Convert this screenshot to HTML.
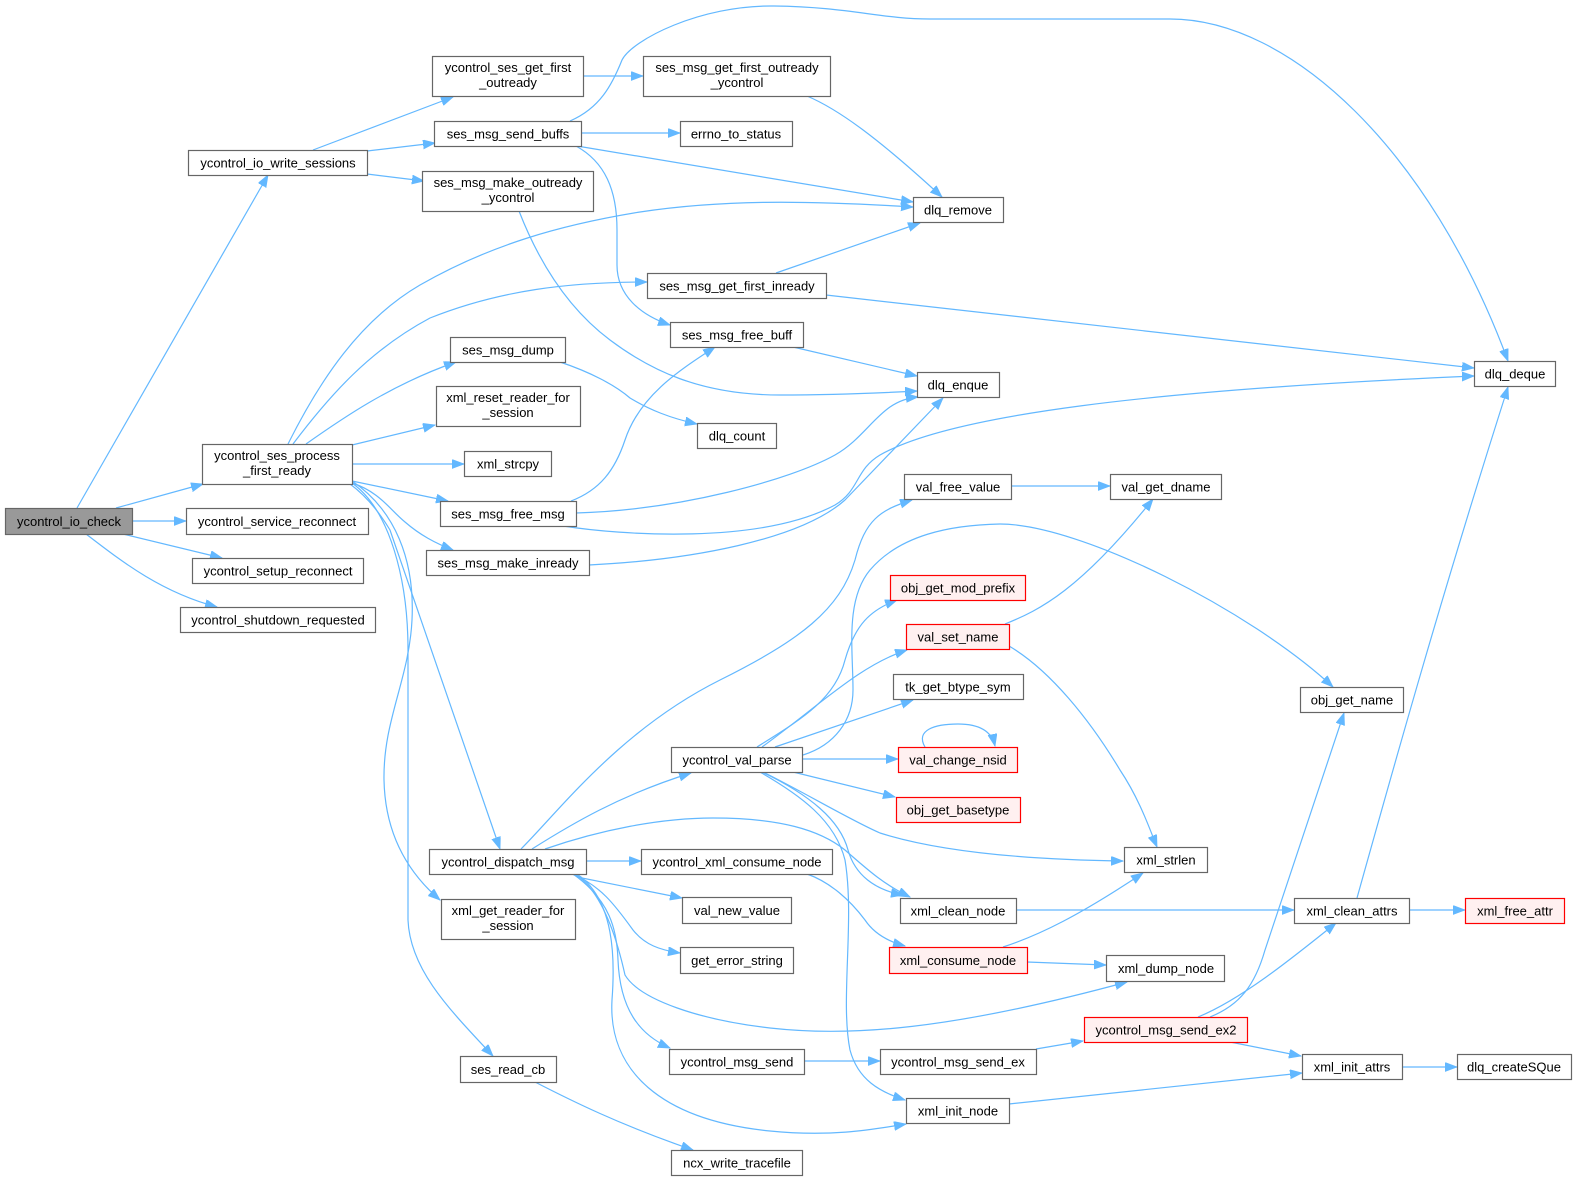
<!DOCTYPE html>
<html><head><meta charset="utf-8"><style>
html,body{margin:0;padding:0;background:#fff;}
svg{display:block;}
.e{fill:none;stroke:#63b8ff;stroke-width:1.2;}
.n{fill:#fff;stroke:#666;stroke-width:1.2;}
.r{fill:#fff0f0;stroke:#ff0000;stroke-width:1.2;}
.g{fill:#999;stroke:#666;stroke-width:1.2;}
text{font-family:"Liberation Sans",Arial,sans-serif;font-size:13px;fill:#000;text-anchor:middle;}
</style></head><body>
<svg width="1577" height="1181" viewBox="0 0 1577 1181" xmlns="http://www.w3.org/2000/svg">
<defs>
<marker id="a" markerUnits="userSpaceOnUse" markerWidth="13" markerHeight="10" refX="12" refY="4.5" orient="auto">
<path d="M0,0 L12,4.5 L0,9 z" fill="#63b8ff" stroke="#63b8ff" stroke-width="0.8"/>
</marker>
</defs>
<g marker-end="url(#a)">
<path class="e" d="M77,508 L268,175"/>
<path class="e" d="M116,508 L203,484"/>
<path class="e" d="M132,521 L186,521"/>
<path class="e" d="M123,534 L222,558"/>
<path class="e" d="M86,534 C120,560 160,592 217,607"/>
<path class="e" d="M313,150 L453,97"/>
<path class="e" d="M367,151 L435,143"/>
<path class="e" d="M367,174 L424,181"/>
<path class="e" d="M583,76 L643,76"/>
<path class="e" d="M570,121 C600,108 612,85 622,60 C632,40 700,5 774,6 C850,7 880,19 930,19 L1170,19 C1290,19 1430,150 1508,361"/>
<path class="e" d="M581,133 L680,133"/>
<path class="e" d="M577,146 L913,202"/>
<path class="e" d="M576,146 C605,162 617,190 617,230 L617,265 C617,295 640,315 670,325"/>
<path class="e" d="M519,211 C540,265 570,310 610,340 C650,370 700,395 780,395 C830,395 880,393 917,391"/>
<path class="e" d="M807,96 C840,110 880,140 942,197"/>
<path class="e" d="M776,273 L920,223"/>
<path class="e" d="M826,295 L1474,368"/>
<path class="e" d="M793,347 L917,376"/>
<path class="e" d="M560,362 C590,372 615,385 630,398 C650,410 670,418 697,424"/>
<path class="e" d="M288,444 C320,380 360,320 420,285 C490,245 560,225 640,212 C720,200 800,200 913,207"/>
<path class="e" d="M293,444 C330,395 370,350 430,318 C500,290 570,282 647,282"/>
<path class="e" d="M306,444 C340,420 390,385 456,362"/>
<path class="e" d="M352,445 L435,425"/>
<path class="e" d="M352,464 L464,464"/>
<path class="e" d="M352,481 L448,501"/>
<path class="e" d="M352,483 C380,492 390,510 405,522 C420,535 435,543 453,550"/>
<path class="e" d="M350,484 C365,495 378,510 390,530 L500,849"/>
<path class="e" d="M352,481 C395,510 415,560 412,620 C409,680 383,720 384,780 C385,830 405,870 440,900"/>
<path class="e" d="M352,483 C390,510 408,580 408,650 L408,920 C410,970 450,1010 493,1056"/>
<path class="e" d="M571,501 C600,490 615,470 625,440 C640,395 680,370 715,347"/>
<path class="e" d="M576,513 C680,510 790,480 835,455 C870,435 880,400 918,397"/>
<path class="e" d="M563,526 C620,535 760,545 835,505 C860,490 855,470 880,455 C950,415 1150,390 1474,376"/>
<path class="e" d="M589,565 C690,560 800,540 845,500 L943,398"/>
<path class="e" d="M521,849 C560,810 620,730 720,680 C800,640 840,610 855,560 C865,520 880,510 912,500"/>
<path class="e" d="M532,849 C570,825 620,795 691,773"/>
<path class="e" d="M545,849 C600,830 660,818 713,818 C780,818 820,830 845,850 C870,872 885,885 910,897"/>
<path class="e" d="M586,861 L641,861"/>
<path class="e" d="M577,877 L682,898"/>
<path class="e" d="M572,874 C600,885 615,905 633,930 C645,945 660,950 680,953"/>
<path class="e" d="M575,874 C600,890 615,930 625,975 C640,1000 700,1020 770,1028 C850,1037 950,1030 1127,982"/>
<path class="e" d="M573,874 C610,900 617,930 618,960 C620,1010 640,1035 670,1048"/>
<path class="e" d="M577,874 C615,900 615,960 612,1000 C608,1070 660,1120 770,1131 C830,1137 870,1130 906,1124"/>
<path class="e" d="M807,874 C830,882 850,900 865,920 C875,935 890,942 905,946"/>
<path class="e" d="M757,747 C800,720 835,700 845,660 C855,625 870,610 897,600"/>
<path class="e" d="M762,747 C820,705 860,665 907,650"/>
<path class="e" d="M775,747 L913,700"/>
<path class="e" d="M802,759 L898,759"/>
<path class="e" d="M803,755 C835,745 853,720 853,690 C853,650 845,600 870,570 C900,535 950,525 1000,524 C1080,524 1250,610 1333,687"/>
<path class="e" d="M793,772 L895,797"/>
<path class="e" d="M763,772 C800,790 850,820 880,833 C950,855 1050,860 1123,861"/>
<path class="e" d="M762,772 C810,795 840,820 848,850 C855,875 875,890 903,895"/>
<path class="e" d="M760,772 C800,795 835,820 845,860 C855,920 840,1000 850,1050 C858,1080 880,1092 905,1100"/>
<path class="e" d="M925,747 C915,730 935,724 958,724 C980,724 992,732 995,746"/>
<path class="e" d="M1011,486 L1110,486"/>
<path class="e" d="M1005,624 C1040,610 1080,590 1153,499"/>
<path class="e" d="M1009,646 C1050,670 1090,720 1120,770 C1140,800 1150,830 1157,847"/>
<path class="e" d="M1016,910 L1294,910"/>
<path class="e" d="M1003,947 C1040,935 1080,915 1143,873"/>
<path class="e" d="M1027,962 L1106,965"/>
<path class="e" d="M1409,910 L1465,910"/>
<path class="e" d="M1357,898 C1390,780 1440,600 1508,387"/>
<path class="e" d="M1210,1017 C1240,1005 1255,985 1265,950 L1344,713"/>
<path class="e" d="M1198,1017 C1240,1000 1290,960 1336,923"/>
<path class="e" d="M1230,1042 L1301,1056"/>
<path class="e" d="M804,1061 L880,1061"/>
<path class="e" d="M1036,1049 L1083,1041"/>
<path class="e" d="M1009,1104 L1302,1073"/>
<path class="e" d="M1402,1067 L1457,1067"/>
<path class="e" d="M535,1082 C570,1100 620,1125 693,1150"/>
</g>

<g>
<rect class="g" x="5.5" y="508.5" width="127" height="26"/><text x="69" y="526">ycontrol_io_check</text>
<rect class="n" x="188.5" y="150.5" width="179" height="25"/><text x="278" y="167.5">ycontrol_io_write_sessions</text>
<rect class="n" x="432.5" y="56.5" width="151" height="40"/><text x="508" y="72">ycontrol_ses_get_first</text><text x="508" y="87">_outready</text>
<rect class="n" x="434.5" y="121.5" width="147" height="25"/><text x="508" y="138.5">ses_msg_send_buffs</text>
<rect class="n" x="422.5" y="171.5" width="171" height="40"/><text x="508" y="187">ses_msg_make_outready</text><text x="508" y="202">_ycontrol</text>
<rect class="n" x="643.5" y="56.5" width="187" height="40"/><text x="737" y="72">ses_msg_get_first_outready</text><text x="737" y="87">_ycontrol</text>
<rect class="n" x="680.5" y="121.5" width="112" height="25"/><text x="736" y="138.5">errno_to_status</text>
<rect class="n" x="913.5" y="197.5" width="90" height="25"/><text x="958" y="214.5">dlq_remove</text>
<rect class="n" x="1474.5" y="361.5" width="81" height="25"/><text x="1515" y="378.5">dlq_deque</text>
<rect class="n" x="647.5" y="273.5" width="179" height="25"/><text x="737" y="290.5">ses_msg_get_first_inready</text>
<rect class="n" x="670.5" y="322.5" width="133" height="25"/><text x="737" y="339.5">ses_msg_free_buff</text>
<rect class="n" x="917.5" y="372.5" width="82" height="25"/><text x="958" y="389.5">dlq_enque</text>
<rect class="n" x="450.5" y="337.5" width="115" height="25"/><text x="508" y="354.5">ses_msg_dump</text>
<rect class="n" x="436.5" y="386.5" width="144" height="40"/><text x="508" y="402">xml_reset_reader_for</text><text x="508" y="417">_session</text>
<rect class="n" x="697.5" y="423.5" width="79" height="25"/><text x="737" y="440.5">dlq_count</text>
<rect class="n" x="202.5" y="444.5" width="150" height="40"/><text x="277" y="460">ycontrol_ses_process</text><text x="277" y="475">_first_ready</text>
<rect class="n" x="464.5" y="451.5" width="87" height="25"/><text x="508" y="468.5">xml_strcpy</text>
<rect class="n" x="440.5" y="501.5" width="136" height="25"/><text x="508" y="518.5">ses_msg_free_msg</text>
<rect class="n" x="426.5" y="550.5" width="163" height="25"/><text x="508" y="567.5">ses_msg_make_inready</text>
<rect class="n" x="186.5" y="508.5" width="182" height="26"/><text x="277" y="526">ycontrol_service_reconnect</text>
<rect class="n" x="192.5" y="558.5" width="171" height="25"/><text x="278" y="575.5">ycontrol_setup_reconnect</text>
<rect class="n" x="180.5" y="607.5" width="195" height="25"/><text x="278" y="624.5">ycontrol_shutdown_requested</text>
<rect class="n" x="904.5" y="474.5" width="107" height="25"/><text x="958" y="491.5">val_free_value</text>
<rect class="n" x="1110.5" y="474.5" width="111" height="25"/><text x="1166" y="491.5">val_get_dname</text>
<rect class="r" x="890.5" y="575.5" width="135" height="25"/><text x="958" y="592.5">obj_get_mod_prefix</text>
<rect class="r" x="906.5" y="624.5" width="103" height="25"/><text x="958" y="641.5">val_set_name</text>
<rect class="n" x="893.5" y="674.5" width="130" height="25"/><text x="958" y="691.5">tk_get_btype_sym</text>
<rect class="n" x="1300.5" y="687.5" width="103" height="25"/><text x="1352" y="704.5">obj_get_name</text>
<rect class="r" x="898.5" y="747.5" width="119" height="25"/><text x="958" y="764.5">val_change_nsid</text>
<rect class="n" x="671.5" y="747.5" width="131" height="25"/><text x="737" y="764.5">ycontrol_val_parse</text>
<rect class="r" x="896.5" y="797.5" width="124" height="25"/><text x="958" y="814.5">obj_get_basetype</text>
<rect class="n" x="429.5" y="849.5" width="157" height="25"/><text x="508" y="866.5">ycontrol_dispatch_msg</text>
<rect class="n" x="641.5" y="849.5" width="191" height="25"/><text x="737" y="866.5">ycontrol_xml_consume_node</text>
<rect class="n" x="1124.5" y="847.5" width="83" height="25"/><text x="1166" y="864.5">xml_strlen</text>
<rect class="n" x="682.5" y="897.5" width="109" height="26"/><text x="737" y="915">val_new_value</text>
<rect class="n" x="900.5" y="898.5" width="116" height="25"/><text x="958" y="915.5">xml_clean_node</text>
<rect class="n" x="1294.5" y="898.5" width="115" height="25"/><text x="1352" y="915.5">xml_clean_attrs</text>
<rect class="r" x="1465.5" y="898.5" width="99" height="25"/><text x="1515" y="915.5">xml_free_attr</text>
<rect class="n" x="441.5" y="899.5" width="134" height="40"/><text x="508" y="915">xml_get_reader_for</text><text x="508" y="930">_session</text>
<rect class="n" x="680.5" y="947.5" width="113" height="26"/><text x="737" y="965">get_error_string</text>
<rect class="r" x="889.5" y="947.5" width="138" height="26"/><text x="958" y="965">xml_consume_node</text>
<rect class="n" x="1106.5" y="955.5" width="118" height="26"/><text x="1166" y="973">xml_dump_node</text>
<rect class="r" x="1084.5" y="1017.5" width="163" height="25"/><text x="1166" y="1034.5">ycontrol_msg_send_ex2</text>
<rect class="n" x="669.5" y="1049.5" width="135" height="25"/><text x="737" y="1066.5">ycontrol_msg_send</text>
<rect class="n" x="880.5" y="1049.5" width="156" height="25"/><text x="958" y="1066.5">ycontrol_msg_send_ex</text>
<rect class="n" x="1302.5" y="1054.5" width="100" height="25"/><text x="1352" y="1071.5">xml_init_attrs</text>
<rect class="n" x="1457.5" y="1054.5" width="114" height="25"/><text x="1514" y="1071.5">dlq_createSQue</text>
<rect class="n" x="460.5" y="1056.5" width="96" height="26"/><text x="508" y="1074">ses_read_cb</text>
<rect class="n" x="906.5" y="1098.5" width="103" height="25"/><text x="958" y="1115.5">xml_init_node</text>
<rect class="n" x="671.5" y="1150.5" width="131" height="25"/><text x="737" y="1167.5">ncx_write_tracefile</text>
</g>
</svg>
</body></html>
